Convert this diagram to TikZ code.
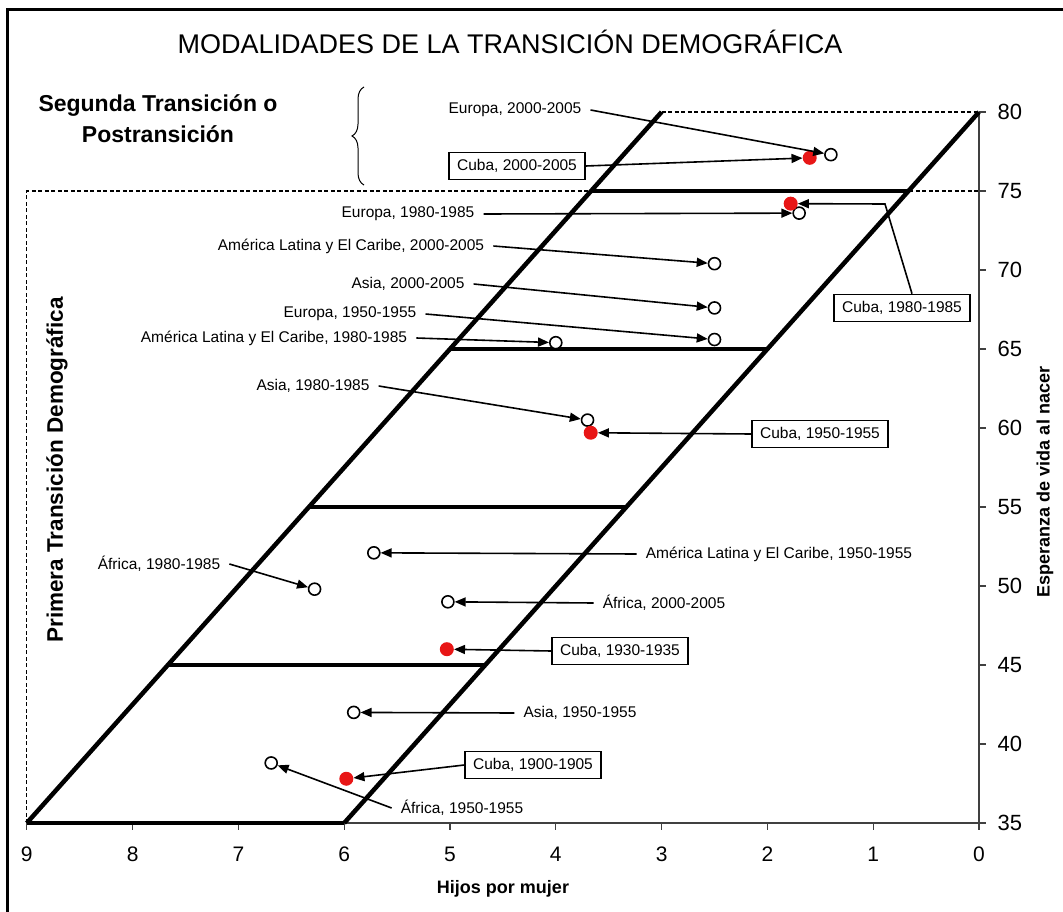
\documentclass[tikz,border=0pt]{standalone}
\usepackage{fontspec}
\setmainfont{Liberation Sans}
\usetikzlibrary{arrows.meta,decorations.pathreplacing}

\definecolor{dotred}{RGB}{232,22,22}

\begin{document}
\begin{tikzpicture}[x=1pt, y=-1pt,
    slant/.style={line width=4.5pt},
    band/.style={line width=3.8pt},
    axisline/.style={line width=1.2pt, black!75},
    guide/.style={dash pattern=on 4pt off 2.5pt, line width=1.1pt},
    opendot/.style={circle, draw, fill=white, line width=1.6pt, minimum size=12pt, inner sep=0pt},
    cubadot/.style={circle, fill=dotred, minimum size=14pt, inner sep=0pt},
    lbl/.style={font=\fontsize{15.5}{18}\selectfont, inner xsep=9pt, inner ysep=2pt},
    cubabox/.style={draw, line width=1.6pt, fill=white, font=\fontsize{15.5}{18}\selectfont, inner xsep=8pt, minimum height=27pt},
    arr/.style={-{Triangle[length=11pt, width=9pt]}, line width=1.6pt}]
    \useasboundingbox (0,0) rectangle (1063,912);

    % Frame
    \draw[line width=3pt] (7,912) -- (7,10) -- (1063,10);

    % Titles
    \node (title) at (510,42) {\fontsize{27}{32}\selectfont MODALIDADES DE LA TRANSICIÓN DEMOGRÁFICA};
    \node[align=center, font=\bfseries\fontsize{23}{31}\selectfont] (segunda) at (158,119) {Segunda Transición o\\Postransición};
    \draw[decorate, decoration={brace, amplitude=12pt}, line width=1pt] (364,185) -- (364,87);
    \node[rotate=90, font=\bfseries\fontsize{22.5}{27}\selectfont] (primera) at (57,470) {Primera Transición Demográfica};
    \node[rotate=90, font=\bfseries\fontsize{18}{22}\selectfont] (esperanza) at (1045,482) {Esperanza de vida al nacer};
    \node[font=\bfseries\fontsize{18}{22}\selectfont] (hijos) at (503,889) {Hijos por mujer};

    % Data frame: x = hijos por mujer, y = esperanza de vida
    \begin{scope}[shift={(979,1376)}, x=-105.8pt, y=15.8pt]
        % Guide box
        \draw[guide] (9,35) -- (9,75) -- (0,75);
        \draw[guide] (3,80) -- (0,80);

        % Axes
        \draw[axisline] (9,35) -- (0,35) -- (0,80);
        \foreach \k in {0,...,9} {
            \draw[axisline] (\k,35) -- ++(0,-7pt);
            \node[font=\fontsize{21}{25}\selectfont] (xl\k) at ([yshift=-31pt]\k,35) {\k};
        }
        \foreach \e in {35,40,...,80} {
            \draw[axisline] (0,\e) -- ++(7pt,0);
            \node[anchor=west, font=\fontsize{22}{26}\selectfont] (yl\e) at ([xshift=15pt]0,\e) {\e};
        }

        % Transition band
        \draw[slant] (9,35) -- (6,35);
        \draw[slant] (9,35) -- (3,80);
        \draw[slant] (6,35) -- (0,80);
        \draw[band] (7.667,45) -- (4.667,45);
        \draw[band] (6.333,55) -- (3.333,55);
        \draw[band] (5,65) -- (2,65);
        \draw[band] (3.667,75) -- (0.667,75);

        % Regions
        \node[opendot] (eu00) at (1.4,77.3) {};
        \node[opendot] (eu80) at (1.7,73.6) {};
        \node[opendot] (al00) at (2.5,70.4) {};
        \node[opendot] (as00) at (2.5,67.6) {};
        \node[opendot] (eu50) at (2.5,65.6) {};
        \node[opendot] (al80) at (4.0,65.4) {};
        \node[opendot] (as80) at (3.7,60.5) {};
        \node[opendot] (al50) at (5.72,52.1) {};
        \node[opendot] (af80) at (6.28,49.8) {};
        \node[opendot] (af00) at (5.02,49.0) {};
        \node[opendot] (as50) at (5.91,42.0) {};
        \node[opendot] (af50) at (6.69,38.8) {};

        % Cuba
        \node[cubadot] (cu00) at (1.6,77.1) {};
        \node[cubadot] (cu80) at (1.78,74.2) {};
        \node[cubadot] (cu50) at (3.67,59.7) {};
        \node[cubadot] (cu30) at (5.03,46.0) {};
        \node[cubadot] (cu19) at (5.98,37.8) {};
    \end{scope}

    % Labels
    \node[lbl] (eu00l) at (515,110) {Europa, 2000-2005};
    \node[cubabox] (cu00l) at (517,166) {Cuba, 2000-2005};
    \node[lbl] (eu80l) at (408,214) {Europa, 1980-1985};
    \node[lbl] (al00l) at (351,246) {América Latina y El Caribe, 2000-2005};
    \node[lbl] (as00l) at (408,284) {Asia, 2000-2005};
    \node[lbl] (eu50l) at (350,314) {Europa, 1950-1955};
    \node[lbl] (al80l) at (274,338) {América Latina y El Caribe, 1980-1985};
    \node[lbl] (as80l) at (313,386) {Asia, 1980-1985};
    \node[cubabox] (cu80l) at (902,308) {Cuba, 1980-1985};
    \node[cubabox] (cu50l) at (820,434) {Cuba, 1950-1955};
    \node[lbl] (al50l) at (779,554) {América Latina y El Caribe, 1950-1955};
    \node[lbl] (af80l) at (159,564) {África, 1980-1985};
    \node[lbl] (af00l) at (664,603) {África, 2000-2005};
    \node[cubabox] (cu30l) at (620,651) {Cuba, 1930-1935};
    \node[lbl] (as50l) at (580,713) {Asia, 1950-1955};
    \node[cubabox] (cu19l) at (533,765) {Cuba, 1900-1905};
    \node[lbl] (af50l) at (462,808) {África, 1950-1955};

    % Arrows
    \draw[arr] (eu00l.east) -- (eu00);
    \draw[arr] (cu00l.east) -- (cu00);
    \draw[arr] (eu80l.east) -- (eu80);
    \draw[arr] (al00l.east) -- (al00);
    \draw[arr] (as00l.east) -- (as00);
    \draw[arr] (eu50l.east) -- (eu50);
    \draw[arr] (al80l.east) -- (al80);
    \draw[arr] (as80l.east) -- (as80);
    \coordinate (cu80bend) at (885,204);
    \draw[arr] ([xshift=10pt]cu80l.north) -- (cu80bend) -- (cu80);
    \draw[arr] (cu50l.west) -- (cu50);
    \draw[arr] (al50l.west) -- (al50);
    \draw[arr] (af80l.east) -- (af80);
    \draw[arr] (af00l.west) -- (af00);
    \draw[arr] (cu30l.west) -- (cu30);
    \draw[arr] (as50l.west) -- (as50);
    \draw[arr] (cu19l.west) -- (cu19);
    \draw[arr] (af50l.west) -- (af50);
\end{tikzpicture}
\end{document}
